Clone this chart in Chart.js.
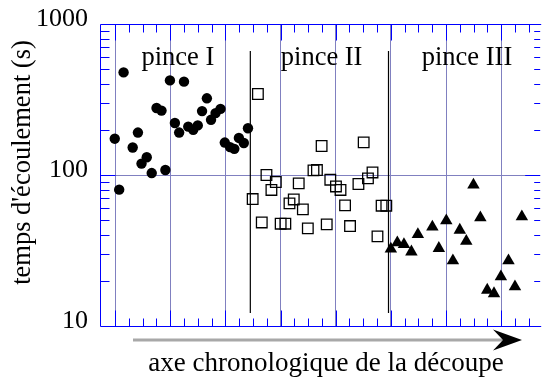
<!DOCTYPE html>
<html><head><meta charset="utf-8">
<script src="https://cdn.jsdelivr.net/npm/chart.js@4"></script>
<style>html,body{margin:0;padding:0;background:#fff}canvas{display:block}</style>
</head><body>
<canvas id="c" width="549" height="378"></canvas>
<script>
// ---- data ----
const circleX = [-0.02,0.30,0.62,1.28,1.66,1.92,2.30,2.66,3.01,3.37,3.65,3.98,4.34,4.65,5.00,5.31,5.67,6.00,6.31,6.66,6.96,7.29,7.65,7.96,8.34,8.65,8.98,9.34,9.64];
const circleY = [174,80,478,152,191,119,131,103,278,267,108,423,221,191,415,209,199,213,265,322,232,257,274,164,153,149,176,163,204];
const squareX = [9.98,10.36,10.64,10.98,11.34,11.66,12.01,12.35,12.65,12.96,13.32,13.62,13.98,14.39,14.64,14.98,15.35,15.61,16.02,16.35,16.68,17.04,17.65,18.03,18.34,18.67,19.03,19.33,19.67];
const squareY = [69.3,344,48.5,100,79.6,89.9,47.6,47.6,64.9,68.9,88.0,59.2,44.3,107.3,107.8,155.6,47.1,93.1,84.0,79.6,62.9,45.9,87.2,164.4,95.0,104.0,39.2,62.6,62.6];
const triangleX = [20.0,20.47,20.95,21.49,21.96,23.01,23.48,24.02,24.5,25.0,25.47,25.99,26.49,26.99,27.48,27.98,28.53,29.0,29.5];
const triangleY = [32.4,35.6,34.7,31.0,40.4,45.3,32.7,49.8,27.1,43.2,36.5,85.9,52.2,17.3,16.4,21.2,27.1,18.2,52.9];

const yTickValues = [10,100,1000];
const yTickLabels = ['10','100','1000'];
const yMinorValues = [20,30,40,50,60,70,80,90,200,300,400,500,600,700,800,900];
const xMajorTicks = [0,4,8,12,16,20,24,28];
const xMinorTicks = [0,1,2,3,4,5,6,7,8,9,10,11,12,13,14,15,16,17,18,19,20,21,22,23,24,25,26,27,28,29,30];
const separatorX = [9.81,19.83];
const separatorY = [662,12.2];
const groupLabels = ['pince I','pince II','pince III'];
const groupLabelX = [4.56,14.98,25.52];
const yTitle = "temps d'écoulement (s)";
const xTitle = 'axe chronologique de la découpe';

// ---- styles ----
const BLUE = '#0000ff';
const GRID = '#8080c0';
const FONT = 'Liberation Serif';

const toPts = (xs, ys) => xs.map((v, i) => ({x: v, y: ys[i]}));
const noPad = s => { s.paddingTop = 0; s.paddingBottom = 0; s.paddingLeft = 0; s.paddingRight = 0; };

const decor = {
  id: 'decor',
  beforeDatasetsDraw(chart) {
    const {ctx, scales: {x, y}} = chart;
    ctx.save();
    ctx.strokeStyle = '#000';
    ctx.lineWidth = 1.2;
    separatorX.forEach(v => {
      const px = x.getPixelForValue(v);
      ctx.beginPath();
      ctx.moveTo(px, y.getPixelForValue(separatorY[0]));
      ctx.lineTo(px, y.getPixelForValue(separatorY[1]));
      ctx.stroke();
    });
    ctx.restore();
  },
  afterDraw(chart) {
    const {ctx, chartArea: a, scales: {x, y}} = chart;
    ctx.save();
    const L = Math.round(a.left) + 0.5, T = Math.round(a.top) + 0.5, B = Math.round(a.bottom) + 0.5, R = a.right;
    ctx.strokeStyle = BLUE;
    ctx.lineWidth = 1;
    ctx.beginPath();
    ctx.moveTo(R + 1, T); ctx.lineTo(L, T); ctx.lineTo(L, B); ctx.lineTo(R + 1, B);
    xMinorTicks.forEach(v => {
      const px = Math.round(x.getPixelForValue(v)) + 0.5;
      const len = xMajorTicks.includes(v) ? 16 : 8;
      ctx.moveTo(px, T); ctx.lineTo(px, T + len);
      ctx.moveTo(px, B); ctx.lineTo(px, B - len);
    });
    const yAll = yMinorValues.concat([100]);
    yAll.forEach(v => {
      const py = Math.round(y.getPixelForValue(v)) + 0.5;
      const len = v === 100 ? 15 : 9;
      ctx.moveTo(L, py); ctx.lineTo(L + len, py);
      const rlen = v === 100 ? 15 : 6;
      ctx.moveTo(R, py); ctx.lineTo(R - rlen, py);
    });
    ctx.stroke();

    ctx.fillStyle = '#000';
    ctx.font = '26.5px "' + FONT + '"';
    ctx.textAlign = 'center';
    ctx.textBaseline = 'alphabetic';
    groupLabels.forEach((t, i) => {
      ctx.fillText(t, x.getPixelForValue(groupLabelX[i]), a.top + 41);
    });

    ctx.save();
    ctx.translate(29.5, 162.5);
    ctx.rotate(-Math.PI / 2);
    ctx.fillText(yTitle, 0, 0);
    ctx.restore();

    ctx.font = '27px "' + FONT + '"';
    ctx.fillText(xTitle, 326, 371);

    ctx.strokeStyle = '#a8a8a8';
    ctx.lineWidth = 3;
    ctx.beginPath();
    ctx.moveTo(133, 340); ctx.lineTo(505, 340);
    ctx.stroke();
    ctx.fillStyle = '#000';
    ctx.beginPath();
    ctx.moveTo(522, 340); ctx.lineTo(493, 329.5); ctx.lineTo(503, 340); ctx.lineTo(493, 350.5);
    ctx.closePath();
    ctx.fill();
    ctx.restore();
  }
};

new Chart(document.getElementById('c'), {
  type: 'scatter',
  data: {
    datasets: [
      {data: toPts(circleX, circleY), pointStyle: 'circle', pointRadius: 5.2, backgroundColor: '#000', borderColor: '#000', borderWidth: 0},
      {data: toPts(squareX, squareY), pointStyle: 'rect', pointRadius: 7.5, backgroundColor: 'rgba(0,0,0,0)', borderColor: '#000', borderWidth: 1.3},
      {data: toPts(triangleX, triangleY), pointStyle: 'triangle', pointRadius: 7.2, backgroundColor: '#000', borderColor: '#000', borderWidth: 0}
    ]
  },
  options: {
    responsive: false,
    animation: false,
    events: [],
    layout: {padding: {top: 24, left: 0, right: 0, bottom: 0}},
    plugins: {legend: {display: false}, tooltip: {enabled: false}},
    scales: {
      x: {
        type: 'linear', min: -1.09, max: 30.83,
        afterBuildTicks: s => { s.ticks = xMajorTicks.map(v => ({value: v})); },
        afterFit: s => { s.height = 52; noPad(s); },
        ticks: {display: false},
        border: {display: false},
        grid: {color: GRID, lineWidth: 1, drawTicks: false}
      },
      y: {
        type: 'logarithmic', min: 10, max: 1000,
        afterBuildTicks: s => { s.ticks = yTickValues.map(v => ({value: v})); },
        afterFit: s => { s.width = 100; noPad(s); },
        ticks: {
          autoSkip: false, padding: 12, labelOffset: -5, color: '#000',
          font: {family: FONT, size: 26},
          callback: (v) => { const i = yTickValues.indexOf(v); return i >= 0 ? yTickLabels[i] : ''; }
        },
        border: {display: false},
        grid: {color: c => (c.tick && c.tick.value === 100) ? GRID : 'rgba(0,0,0,0)', lineWidth: 1, drawTicks: false}
      }
    }
  },
  plugins: [decor]
});
</script>
</body></html>
